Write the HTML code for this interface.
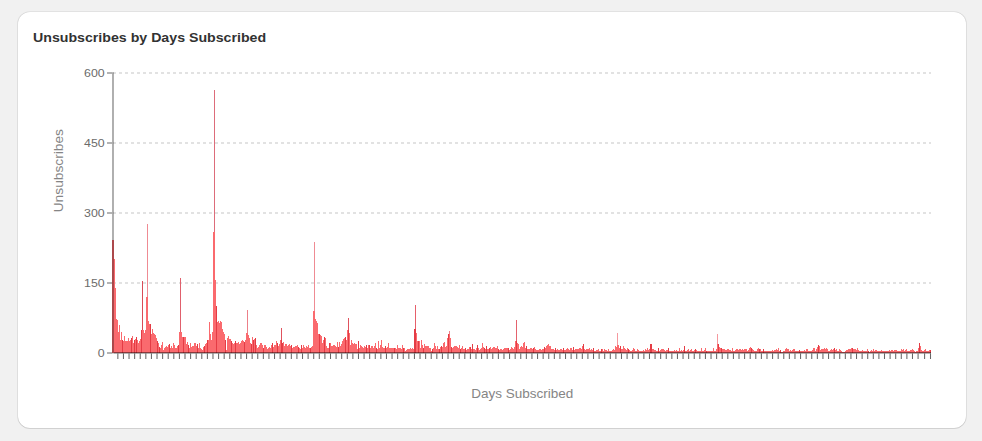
<!DOCTYPE html>
<html><head><meta charset="utf-8"><title>Unsubscribes by Days Subscribed</title>
<style>
html,body{margin:0;padding:0;background:#f1f1f1;width:982px;height:441px;overflow:hidden}
body{font-family:"Liberation Sans",Arial,sans-serif;}
.card{position:absolute;left:18px;top:12px;width:948px;height:416px;background:#fff;border-radius:12px;box-shadow:0 1px 0 0 rgba(0,0,0,.13),1px 0 0 0 rgba(0,0,0,.08),-1px 0 0 0 rgba(0,0,0,.08),0 -1px 0 0 rgba(0,0,0,.06);}
h2{position:absolute;left:33px;top:28.5px;margin:0;font-size:13.6px;line-height:18px;font-weight:700;color:#323232;white-space:nowrap;transform-origin:0 0;transform:scaleX(1.0425)}
svg{position:absolute;left:0;top:0}
svg text{font-family:"Liberation Sans",Arial,sans-serif;}
</style></head><body>
<div class="card"></div>
<h2>Unsubscribes by Days Subscribed</h2>
<svg width="982" height="441" viewBox="0 0 982 441">
<g stroke="#d9d9d9" stroke-width="1.4" stroke-dasharray="3,3" fill="none">
<path d="M113 73H931M113 143H931M113 213H931M113 283H931"/>
</g>
<g shape-rendering="crispEdges">
<path fill="#fa6a6e" d="M113 353.3V240h1V353.3zM114 353.3V259h1V353.3zM115 353.3V288h1V353.3zM116 353.3V319.4h1V353.3zM117 353.3V320h1V353.3zM118 353.3V331.6h1V353.3zM119 353.3V324.9h1V353.3zM120 353.3V340.2h1V353.3zM121 353.3V332.2h1V353.3zM123 353.3V340.8h1V353.3zM124 353.3V335.9h1V353.3zM125 353.3V340.8h1V353.3zM126 353.3V341.2h1V353.3zM127 353.3V341.4h1V353.3zM128 353.3V338.3h1V353.3zM129 353.3V341.4h1V353.3zM130 353.3V339.6h1V353.3zM132 353.3V335.9h1V353.3zM133 353.3V343.2h1V353.3zM135 353.3V339h1V353.3zM137 353.3V340.2h1V353.3zM138 353.3V343.2h1V353.3zM139 353.3V341.1h1V353.3zM140 353.3V339h1V353.3zM142 353.3V329.8h1V353.3zM143 353.3V329.8h1V353.3zM144 353.3V332.8h1V353.3zM145 353.3V330h1V353.3zM146 353.3V297h1V353.3zM147 353.3V297h1V353.3zM148 353.3V321.2h1V353.3zM149 353.3V324.3h1V353.3zM151 353.3V334.1h1V353.3zM152 353.3V328.6h1V353.3zM153 353.3V332.8h1V353.3zM154 353.3V334.1h1V353.3zM155 353.3V334.7h1V353.3zM156 353.3V337.7h1V353.3zM158 353.3V342.6h1V353.3zM160 353.3V348.1h1V353.3zM161 353.3V345.1h1V353.3zM162 353.3V342h1V353.3zM163 353.3V350h1V353.3zM164 353.3V348.1h1V353.3zM165 353.3V346.9h1V353.3zM166 353.3V346.3h1V353.3zM167 353.3V346.9h1V353.3zM168 353.3V345.1h1V353.3zM170 353.3V348.1h1V353.3zM171 353.3V345.7h1V353.3zM172 353.3V347.5h1V353.3zM173 353.3V342.6h1V353.3zM174 353.3V344.5h1V353.3zM175 353.3V347.5h1V353.3zM176 353.3V348.1h1V353.3zM177 353.3V345.7h1V353.3zM179 353.3V331.6h1V353.3zM180 353.3V331.6h1V353.3zM181 353.3V331.6h1V353.3zM182 353.3V336.5h1V353.3zM184 353.3V336.5h1V353.3zM185 353.3V336.5h1V353.3zM186 353.3V343.9h1V353.3zM187 353.3V342h1V353.3zM189 353.3V348.1h1V353.3zM190 353.3V343.2h1V353.3zM191 353.3V346.9h1V353.3zM192 353.3V346.3h1V353.3zM193 353.3V345.7h1V353.3zM194 353.3V342.6h1V353.3zM195 353.3V342.6h1V353.3zM196 353.3V346.3h1V353.3zM198 353.3V348.1h1V353.3zM199 353.3V342.6h1V353.3zM200 353.3V348.1h1V353.3zM201 353.3V348.8h1V353.3zM202 353.3V350h1V353.3zM203 353.3V346.9h1V353.3zM205 353.3V343.9h1V353.3zM206 353.3V343.2h1V353.3zM208 353.3V340.2h1V353.3zM209 353.3V322.4h1V353.3zM210 353.3V334.1h1V353.3zM211 353.3V340.2h1V353.3zM212 353.3V331.6h1V353.3zM213 353.3V232h1V353.3zM214 353.3V232h1V353.3zM215 353.3V280h1V353.3zM217 353.3V322.4h1V353.3zM218 353.3V320.6h1V353.3zM219 353.3V323h1V353.3zM220 353.3V321.2h1V353.3zM221 353.3V322.4h1V353.3zM222 353.3V329.2h1V353.3zM223 353.3V332.2h1V353.3zM224 353.3V334.1h1V353.3zM226 353.3V350h1V353.3zM227 353.3V337.7h1V353.3zM228 353.3V335.9h1V353.3zM229 353.3V339h1V353.3zM230 353.3V339h1V353.3zM232 353.3V343.2h1V353.3zM233 353.3V343.9h1V353.3zM234 353.3V343.2h1V353.3zM236 353.3V343.2h1V353.3zM237 353.3V342.6h1V353.3zM238 353.3V342h1V353.3zM239 353.3V343.9h1V353.3zM240 353.3V342.6h1V353.3zM241 353.3V341.4h1V353.3zM242 353.3V339.9h1V353.3zM243 353.3V341.4h1V353.3zM245 353.3V339.9h1V353.3zM246 353.3V332.8h1V353.3zM247 353.3V332.8h1V353.3zM248 353.3V335.3h1V353.3zM249 353.3V337.7h1V353.3zM250 353.3V342.6h1V353.3zM252 353.3V337.1h1V353.3zM254 353.3V339h1V353.3zM256 353.3V345.1h1V353.3zM257 353.3V347.5h1V353.3zM258 353.3V346.9h1V353.3zM259 353.3V344.5h1V353.3zM260 353.3V343.2h1V353.3zM261 353.3V343.2h1V353.3zM262 353.3V345.1h1V353.3zM264 353.3V344.5h1V353.3zM265 353.3V344.5h1V353.3zM266 353.3V346.9h1V353.3zM267 353.3V349.4h1V353.3zM268 353.3V347.5h1V353.3zM269 353.3V346.9h1V353.3zM270 353.3V347.5h1V353.3zM271 353.3V345.1h1V353.3zM273 353.3V346.9h1V353.3zM274 353.3V344.5h1V353.3zM275 353.3V345.1h1V353.3zM276 353.3V341.4h1V353.3zM278 353.3V346.3h1V353.3zM279 353.3V343.9h1V353.3zM280 353.3V340.2h1V353.3zM283 353.3V342h1V353.3zM284 353.3V346.3h1V353.3zM285 353.3V343.9h1V353.3zM286 353.3V343.9h1V353.3zM287 353.3V345.7h1V353.3zM288 353.3V344.5h1V353.3zM289 353.3V343.9h1V353.3zM290 353.3V346.3h1V353.3zM292 353.3V348.1h1V353.3zM293 353.3V346.9h1V353.3zM294 353.3V346.9h1V353.3zM295 353.3V346.3h1V353.3zM296 353.3V345.7h1V353.3zM297 353.3V344.5h1V353.3zM299 353.3V348.1h1V353.3zM300 353.3V349.4h1V353.3zM302 353.3V347.5h1V353.3zM303 353.3V345.1h1V353.3zM304 353.3V346.9h1V353.3zM305 353.3V347.5h1V353.3zM306 353.3V346.3h1V353.3zM307 353.3V346.9h1V353.3zM308 353.3V345.1h1V353.3zM309 353.3V347.5h1V353.3zM311 353.3V346.9h1V353.3zM312 353.3V345.7h1V353.3zM313 353.3V311.4h1V353.3zM314 353.3V311.4h1V353.3zM315 353.3V319.4h1V353.3zM316 353.3V321.2h1V353.3zM317 353.3V323h1V353.3zM318 353.3V334.1h1V353.3zM320 353.3V334.7h1V353.3zM321 353.3V335.9h1V353.3zM322 353.3V342.6h1V353.3zM323 353.3V340.2h1V353.3zM325 353.3V337.7h1V353.3zM326 353.3V346.3h1V353.3zM327 353.3V348.1h1V353.3zM328 353.3V347.5h1V353.3zM330 353.3V343.2h1V353.3zM331 353.3V346.3h1V353.3zM332 353.3V345.7h1V353.3zM333 353.3V345.1h1V353.3zM334 353.3V345.1h1V353.3zM335 353.3V345.7h1V353.3zM336 353.3V346.9h1V353.3zM337 353.3V342h1V353.3zM339 353.3V342h1V353.3zM340 353.3V346.3h1V353.3zM341 353.3V343.9h1V353.3zM342 353.3V341.4h1V353.3zM343 353.3V339h1V353.3zM344 353.3V337.7h1V353.3zM346 353.3V340.2h1V353.3zM347 353.3V329.8h1V353.3zM349 353.3V332.8h1V353.3zM350 353.3V344.5h1V353.3zM351 353.3V340.2h1V353.3zM352 353.3V343.2h1V353.3zM353 353.3V343.9h1V353.3zM354 353.3V343.2h1V353.3zM355 353.3V343.9h1V353.3zM356 353.3V343.9h1V353.3zM357 353.3V348.8h1V353.3zM359 353.3V348.1h1V353.3zM360 353.3V345.1h1V353.3zM361 353.3V345.7h1V353.3zM362 353.3V346.9h1V353.3zM363 353.3V347.5h1V353.3zM364 353.3V346.3h1V353.3zM365 353.3V346.9h1V353.3zM367 353.3V347.5h1V353.3zM368 353.3V344.5h1V353.3zM370 353.3V348.1h1V353.3zM371 353.3V345.7h1V353.3zM372 353.3V345.7h1V353.3zM373 353.3V348.1h1V353.3zM374 353.3V346.3h1V353.3zM375 353.3V343.2h1V353.3zM377 353.3V348.8h1V353.3zM378 353.3V341.4h1V353.3zM379 353.3V348.1h1V353.3zM380 353.3V345.1h1V353.3zM381 353.3V340.2h1V353.3zM382 353.3V346.9h1V353.3zM383 353.3V347.5h1V353.3zM384 353.3V348.1h1V353.3zM386 353.3V348.1h1V353.3zM387 353.3V346.9h1V353.3zM388 353.3V343.2h1V353.3zM389 353.3V347.5h1V353.3zM390 353.3V347.5h1V353.3zM391 353.3V348.1h1V353.3zM392 353.3V348.1h1V353.3zM393 353.3V348.1h1V353.3zM395 353.3V347.5h1V353.3zM396 353.3V348.8h1V353.3zM397 353.3V345.1h1V353.3zM398 353.3V348.1h1V353.3zM399 353.3V348.1h1V353.3zM400 353.3V348.1h1V353.3zM401 353.3V348.8h1V353.3zM402 353.3V345.1h1V353.3zM404 353.3V347.5h1V353.3zM405 353.3V350.6h1V353.3zM406 353.3V350h1V353.3zM407 353.3V348.8h1V353.3zM408 353.3V348.8h1V353.3zM409 353.3V348.8h1V353.3zM410 353.3V348.1h1V353.3zM411 353.3V348.8h1V353.3zM412 353.3V347.5h1V353.3zM413 353.3V349.4h1V353.3zM416 353.3V333.4h1V353.3zM417 353.3V341.4h1V353.3zM419 353.3V340.8h1V353.3zM420 353.3V347.5h1V353.3zM421 353.3V339.6h1V353.3zM422 353.3V344.5h1V353.3zM424 353.3V343.9h1V353.3zM425 353.3V345.7h1V353.3zM426 353.3V345.7h1V353.3zM427 353.3V345.7h1V353.3zM428 353.3V345.7h1V353.3zM429 353.3V347.5h1V353.3zM430 353.3V348.1h1V353.3zM431 353.3V350.6h1V353.3zM433 353.3V348.1h1V353.3zM434 353.3V342.6h1V353.3zM435 353.3V345.7h1V353.3zM436 353.3V348.8h1V353.3zM437 353.3V345.7h1V353.3zM438 353.3V349.4h1V353.3zM440 353.3V346.9h1V353.3zM442 353.3V346.9h1V353.3zM443 353.3V343.2h1V353.3zM444 353.3V342h1V353.3zM445 353.3V346.9h1V353.3zM446 353.3V346h1V353.3zM447 353.3V337.7h1V353.3zM449 353.3V334.4h1V353.3zM450 353.3V337.7h1V353.3zM452 353.3V348.1h1V353.3zM453 353.3V346.9h1V353.3zM454 353.3V345.7h1V353.3zM455 353.3V346.3h1V353.3zM456 353.3V345.7h1V353.3zM457 353.3V346.9h1V353.3zM458 353.3V347.5h1V353.3zM459 353.3V344.5h1V353.3zM461 353.3V348.1h1V353.3zM462 353.3V345.7h1V353.3zM463 353.3V348.8h1V353.3zM464 353.3V349.4h1V353.3zM466 353.3V350h1V353.3zM467 353.3V349.4h1V353.3zM468 353.3V348.8h1V353.3zM469 353.3V346.9h1V353.3zM471 353.3V349.4h1V353.3zM473 353.3V348.8h1V353.3zM474 353.3V349.4h1V353.3zM475 353.3V350h1V353.3zM476 353.3V347.5h1V353.3zM478 353.3V347.5h1V353.3zM479 353.3V350h1V353.3zM480 353.3V349.4h1V353.3zM481 353.3V348.1h1V353.3zM482 353.3V343.2h1V353.3zM483 353.3V346.9h1V353.3zM485 353.3V349.4h1V353.3zM487 353.3V348.8h1V353.3zM488 353.3V349.4h1V353.3zM490 353.3V346.9h1V353.3zM491 353.3V349.4h1V353.3zM492 353.3V348.1h1V353.3zM493 353.3V346.9h1V353.3zM494 353.3V347.2h1V353.3zM495 353.3V347.5h1V353.3zM496 353.3V348.1h1V353.3zM497 353.3V346.3h1V353.3zM499 353.3V350h1V353.3zM500 353.3V349.4h1V353.3zM501 353.3V348.8h1V353.3zM502 353.3V350h1V353.3zM503 353.3V348.8h1V353.3zM504 353.3V348.1h1V353.3zM505 353.3V348.1h1V353.3zM506 353.3V348.1h1V353.3zM507 353.3V348.1h1V353.3zM509 353.3V350h1V353.3zM510 353.3V349.4h1V353.3zM511 353.3V346.9h1V353.3zM512 353.3V347.5h1V353.3zM513 353.3V349.4h1V353.3zM514 353.3V346.9h1V353.3zM515 353.3V341.4h1V353.3zM517 353.3V342.6h1V353.3zM518 353.3V343.9h1V353.3zM519 353.3V349.4h1V353.3zM520 353.3V346.9h1V353.3zM521 353.3V345.7h1V353.3zM522 353.3V346.9h1V353.3zM523 353.3V342.6h1V353.3zM524 353.3V342h1V353.3zM525 353.3V347.5h1V353.3zM527 353.3V349.4h1V353.3zM528 353.3V348.8h1V353.3zM529 353.3V349.4h1V353.3zM530 353.3V347.8h1V353.3zM531 353.3V347.5h1V353.3zM532 353.3V349.4h1V353.3zM534 353.3V346.9h1V353.3zM535 353.3V349.4h1V353.3zM536 353.3V350h1V353.3zM537 353.3V350h1V353.3zM538 353.3V350h1V353.3zM539 353.3V348.8h1V353.3zM540 353.3V349.4h1V353.3zM541 353.3V350h1V353.3zM542 353.3V349.4h1V353.3zM543 353.3V348.8h1V353.3zM545 353.3V347.5h1V353.3zM546 353.3V345.7h1V353.3zM547 353.3V345.1h1V353.3zM548 353.3V343.9h1V353.3zM549 353.3V345.7h1V353.3zM550 353.3V346.3h1V353.3zM551 353.3V348.8h1V353.3zM552 353.3V349.4h1V353.3zM553 353.3V349.4h1V353.3zM554 353.3V350h1V353.3zM556 353.3V350h1V353.3zM557 353.3V349.4h1V353.3zM558 353.3V350h1V353.3zM559 353.3V350h1V353.3zM560 353.3V349.4h1V353.3zM561 353.3V348.8h1V353.3zM562 353.3V350h1V353.3zM564 353.3V350h1V353.3zM565 353.3V350h1V353.3zM566 353.3V348.8h1V353.3zM567 353.3V347.5h1V353.3zM568 353.3V349.4h1V353.3zM569 353.3V350h1V353.3zM570 353.3V348.1h1V353.3zM571 353.3V347.5h1V353.3zM572 353.3V350h1V353.3zM574 353.3V350h1V353.3zM575 353.3V349.4h1V353.3zM576 353.3V349.4h1V353.3zM577 353.3V349.4h1V353.3zM578 353.3V349.1h1V353.3zM579 353.3V348.1h1V353.3zM580 353.3V347.5h1V353.3zM581 353.3V349.4h1V353.3zM582 353.3V346.3h1V353.3zM584 353.3V349.4h1V353.3zM585 353.3V350h1V353.3zM586 353.3V349.4h1V353.3zM587 353.3V348.8h1V353.3zM588 353.3V349.4h1V353.3zM589 353.3V348.1h1V353.3zM590 353.3V350h1V353.3zM591 353.3V349.4h1V353.3zM592 353.3V350h1V353.3zM594 353.3V350.6h1V353.3zM595 353.3V350.6h1V353.3zM596 353.3V350h1V353.3zM597 353.3V350h1V353.3zM598 353.3V349.4h1V353.3zM599 353.3V351.2h1V353.3zM600 353.3V350.6h1V353.3zM602 353.3V349.4h1V353.3zM603 353.3V351.2h1V353.3zM604 353.3V349.4h1V353.3zM605 353.3V350h1V353.3zM606 353.3V350h1V353.3zM607 353.3V350.6h1V353.3zM608 353.3V349.4h1V353.3zM609 353.3V351.2h1V353.3zM610 353.3V351.2h1V353.3zM611 353.3V350.6h1V353.3zM612 353.3V350h1V353.3zM613 353.3V349.4h1V353.3zM614 353.3V350.3h1V353.3zM615 353.3V346.3h1V353.3zM616 353.3V346.5h1V353.3zM617 353.3V344.5h1V353.3zM618 353.3V344.5h1V353.3zM619 353.3V348.1h1V353.3zM621 353.3V349.4h1V353.3zM622 353.3V348.8h1V353.3zM623 353.3V346.3h1V353.3zM624 353.3V348.1h1V353.3zM625 353.3V348.8h1V353.3zM626 353.3V350h1V353.3zM627 353.3V348.1h1V353.3zM629 353.3V350h1V353.3zM630 353.3V350.6h1V353.3zM631 353.3V350.6h1V353.3zM632 353.3V350h1V353.3zM633 353.3V348.1h1V353.3zM634 353.3V348.8h1V353.3zM635 353.3V350.6h1V353.3zM636 353.3V350.6h1V353.3zM637 353.3V349.4h1V353.3zM638 353.3V350h1V353.3zM639 353.3V351.2h1V353.3zM640 353.3V351.2h1V353.3zM641 353.3V350.6h1V353.3zM642 353.3V350.6h1V353.3zM643 353.3V350h1V353.3zM644 353.3V350.6h1V353.3zM645 353.3V349.4h1V353.3zM646 353.3V350h1V353.3zM647 353.3V348.1h1V353.3zM648 353.3V350h1V353.3zM649 353.3V349.4h1V353.3zM652 353.3V349.4h1V353.3zM653 353.3V348.8h1V353.3zM654 353.3V350h1V353.3zM655 353.3V350h1V353.3zM656 353.3V350.6h1V353.3zM657 353.3V350.6h1V353.3zM659 353.3V350.6h1V353.3zM660 353.3V350h1V353.3zM661 353.3V348.8h1V353.3zM662 353.3V349.4h1V353.3zM663 353.3V348.8h1V353.3zM664 353.3V350h1V353.3zM665 353.3V350.6h1V353.3zM666 353.3V350h1V353.3zM667 353.3V350h1V353.3zM669 353.3V351.2h1V353.3zM670 353.3V351.2h1V353.3zM671 353.3V351.4h1V353.3zM672 353.3V351.4h1V353.3zM673 353.3V351.2h1V353.3zM674 353.3V350h1V353.3zM675 353.3V350.6h1V353.3zM676 353.3V350h1V353.3zM677 353.3V350.6h1V353.3zM678 353.3V350.6h1V353.3zM679 353.3V348.1h1V353.3zM680 353.3V350.6h1V353.3zM681 353.3V350h1V353.3zM682 353.3V350.6h1V353.3zM683 353.3V350h1V353.3zM685 353.3V350.6h1V353.3zM686 353.3V350.6h1V353.3zM687 353.3V350h1V353.3zM688 353.3V349.4h1V353.3zM689 353.3V350.6h1V353.3zM690 353.3V350h1V353.3zM691 353.3V349.4h1V353.3zM692 353.3V350.6h1V353.3zM693 353.3V350.6h1V353.3zM694 353.3V350h1V353.3zM696 353.3V350h1V353.3zM697 353.3V350.6h1V353.3zM698 353.3V350.6h1V353.3zM699 353.3V350.6h1V353.3zM700 353.3V350.6h1V353.3zM701 353.3V347.5h1V353.3zM702 353.3V350.6h1V353.3zM703 353.3V351.2h1V353.3zM704 353.3V350h1V353.3zM705 353.3V348.1h1V353.3zM707 353.3V351.2h1V353.3zM708 353.3V350.6h1V353.3zM709 353.3V350.6h1V353.3zM710 353.3V351.2h1V353.3zM711 353.3V351.4h1V353.3zM712 353.3V351.2h1V353.3zM713 353.3V348.1h1V353.3zM714 353.3V351.4h1V353.3zM715 353.3V350.6h1V353.3zM716 353.3V348.8h1V353.3zM717 353.3V343.9h1V353.3zM719 353.3V346.9h1V353.3zM720 353.3V348.1h1V353.3zM722 353.3V348.8h1V353.3zM723 353.3V348.8h1V353.3zM724 353.3V349.4h1V353.3zM725 353.3V350h1V353.3zM726 353.3V350h1V353.3zM727 353.3V349.4h1V353.3zM728 353.3V349.4h1V353.3zM729 353.3V350h1V353.3zM730 353.3V350h1V353.3zM731 353.3V350.6h1V353.3zM732 353.3V348.1h1V353.3zM733 353.3V351.2h1V353.3zM734 353.3V350.6h1V353.3zM735 353.3V350h1V353.3zM736 353.3V349.4h1V353.3zM737 353.3V348.8h1V353.3zM738 353.3V350h1V353.3zM739 353.3V349.4h1V353.3zM740 353.3V349.4h1V353.3zM741 353.3V350h1V353.3zM742 353.3V349.4h1V353.3zM743 353.3V350h1V353.3zM744 353.3V349.4h1V353.3zM745 353.3V348.8h1V353.3zM746 353.3V349.1h1V353.3zM747 353.3V350.6h1V353.3zM748 353.3V350h1V353.3zM749 353.3V347.5h1V353.3zM750 353.3V346.9h1V353.3zM752 353.3V348.8h1V353.3zM753 353.3V350h1V353.3zM754 353.3V350.6h1V353.3zM755 353.3V351.2h1V353.3zM756 353.3V350.6h1V353.3zM757 353.3V349.4h1V353.3zM758 353.3V348.1h1V353.3zM760 353.3V349.4h1V353.3zM761 353.3V351.2h1V353.3zM762 353.3V350.6h1V353.3zM764 353.3V351.2h1V353.3zM765 353.3V351.2h1V353.3zM766 353.3V351h1V353.3zM767 353.3V351.2h1V353.3zM768 353.3V351.4h1V353.3zM769 353.3V351h1V353.3zM770 353.3V350.6h1V353.3zM771 353.3V351h1V353.3zM772 353.3V350h1V353.3zM773 353.3V351h1V353.3zM774 353.3V350h1V353.3zM775 353.3V350h1V353.3zM776 353.3V349.4h1V353.3zM777 353.3V350h1V353.3zM778 353.3V348.1h1V353.3zM779 353.3V351.2h1V353.3zM781 353.3V351.7h1V353.3zM782 353.3V351.7h1V353.3zM783 353.3V351.4h1V353.3zM784 353.3V350.6h1V353.3zM785 353.3V348.8h1V353.3zM786 353.3V347.5h1V353.3zM787 353.3V348.8h1V353.3zM788 353.3V349.4h1V353.3zM789 353.3V350.6h1V353.3zM790 353.3V350h1V353.3zM791 353.3V350.6h1V353.3zM792 353.3V350h1V353.3zM793 353.3V349.4h1V353.3zM794 353.3V349.1h1V353.3zM795 353.3V351.2h1V353.3zM796 353.3V351.4h1V353.3zM797 353.3V351.2h1V353.3zM798 353.3V350.6h1V353.3zM800 353.3V351.2h1V353.3zM801 353.3V350.6h1V353.3zM802 353.3V351.2h1V353.3zM803 353.3V350.6h1V353.3zM804 353.3V350h1V353.3zM805 353.3V350.6h1V353.3zM806 353.3V349.4h1V353.3zM807 353.3V348.8h1V353.3zM808 353.3V350.6h1V353.3zM809 353.3V351.2h1V353.3zM810 353.3V351.2h1V353.3zM811 353.3V350.6h1V353.3zM812 353.3V350h1V353.3zM813 353.3V348.1h1V353.3zM814 353.3V347.5h1V353.3zM815 353.3V350.6h1V353.3zM816 353.3V349.4h1V353.3zM817 353.3V346.9h1V353.3zM819 353.3V345.7h1V353.3zM820 353.3V350h1V353.3zM821 353.3V349.4h1V353.3zM822 353.3V348.8h1V353.3zM823 353.3V349.4h1V353.3zM824 353.3V348.1h1V353.3zM825 353.3V348.8h1V353.3zM826 353.3V348.1h1V353.3zM827 353.3V349.4h1V353.3zM828 353.3V350.6h1V353.3zM829 353.3V351.2h1V353.3zM830 353.3V350h1V353.3zM831 353.3V349.4h1V353.3zM832 353.3V350h1V353.3zM833 353.3V348.8h1V353.3zM835 353.3V350h1V353.3zM836 353.3V348.8h1V353.3zM837 353.3V350.6h1V353.3zM838 353.3V350.6h1V353.3zM839 353.3V349.4h1V353.3zM840 353.3V350h1V353.3zM841 353.3V351.4h1V353.3zM842 353.3V351.8h1V353.3zM843 353.3V351.8h1V353.3zM844 353.3V351.8h1V353.3zM845 353.3V350.6h1V353.3zM846 353.3V350h1V353.3zM847 353.3V350h1V353.3zM848 353.3V349.4h1V353.3zM849 353.3V349.4h1V353.3zM850 353.3V348.8h1V353.3zM851 353.3V348.1h1V353.3zM853 353.3V348.8h1V353.3zM854 353.3V349.1h1V353.3zM855 353.3V349.4h1V353.3zM856 353.3V350h1V353.3zM857 353.3V348.1h1V353.3zM858 353.3V350h1V353.3zM859 353.3V350.6h1V353.3zM860 353.3V350.6h1V353.3zM861 353.3V351.2h1V353.3zM862 353.3V350h1V353.3zM863 353.3V351.4h1V353.3zM864 353.3V350.6h1V353.3zM865 353.3V351.4h1V353.3zM866 353.3V351.2h1V353.3zM867 353.3V349.4h1V353.3zM869 353.3V351.8h1V353.3zM870 353.3V351.2h1V353.3zM871 353.3V350h1V353.3zM872 353.3V350.6h1V353.3zM873 353.3V349.4h1V353.3zM874 353.3V350.6h1V353.3zM875 353.3V350h1V353.3zM876 353.3V350h1V353.3zM877 353.3V350.6h1V353.3zM878 353.3V351.2h1V353.3zM879 353.3V350.6h1V353.3zM880 353.3V350.6h1V353.3zM881 353.3V350h1V353.3zM882 353.3V350.6h1V353.3zM883 353.3V351.2h1V353.3zM884 353.3V350.6h1V353.3zM885 353.3V350.6h1V353.3zM886 353.3V351h1V353.3zM887 353.3V350.6h1V353.3zM888 353.3V351.2h1V353.3zM889 353.3V350h1V353.3zM890 353.3V350.6h1V353.3zM891 353.3V350h1V353.3zM892 353.3V350h1V353.3zM893 353.3V350.6h1V353.3zM894 353.3V350h1V353.3zM895 353.3V350h1V353.3zM896 353.3V350h1V353.3zM897 353.3V351h1V353.3zM898 353.3V351.4h1V353.3zM899 353.3V351.2h1V353.3zM900 353.3V350.6h1V353.3zM901 353.3V348.8h1V353.3zM902 353.3V350h1V353.3zM903 353.3V348.8h1V353.3zM904 353.3V351.2h1V353.3zM905 353.3V350h1V353.3zM906 353.3V349.4h1V353.3zM907 353.3V350.6h1V353.3zM908 353.3V351.4h1V353.3zM909 353.3V350.6h1V353.3zM910 353.3V350h1V353.3zM911 353.3V350h1V353.3zM912 353.3V349.4h1V353.3zM913 353.3V350h1V353.3zM914 353.3V351.2h1V353.3zM915 353.3V351.8h1V353.3zM916 353.3V351.4h1V353.3zM917 353.3V350.6h1V353.3zM918 353.3V347.5h1V353.3zM920 353.3V346.3h1V353.3zM921 353.3V350h1V353.3zM922 353.3V350.6h1V353.3zM923 353.3V350.6h1V353.3zM924 353.3V350h1V353.3zM925 353.3V349.4h1V353.3zM926 353.3V350.6h1V353.3zM927 353.3V351.2h1V353.3zM928 353.3V350.6h1V353.3zM929 353.3V350h1V353.3zM112.4 353.3V240h.6V353.3z"/>
<path fill="#d94c57" d="M142 329.8V281h1V329.8z"/><path fill="#ef8b93" d="M147 297V224h1V297z"/><path fill="#e0606c" d="M180 331.6V278h1V331.6z"/><path fill="#dd6c7a" d="M214 232V90h1V232z"/><path fill="#ec7f88" d="M247 332.8V310.2h1V332.8z"/><path fill="#e0525d" d="M281 340.2V327.9h1V340.2z"/><path fill="#ef8b93" d="M314 311.4V242h1V311.4z"/><path fill="#e0525d" d="M348 329.8V318.1h1V329.8z"/><path fill="#e65f6a" d="M415 329.2V304.7h1V329.2z"/><path fill="#ee7f88" d="M449 334.4V331h1V334.4z"/><path fill="#e4626d" d="M516 341.4V320h1V341.4z"/><path fill="#f5989e" d="M617 344.5V333.4h1V344.5z"/><path fill="#f5989e" d="M717 343.9V334.1h1V343.9z"/>
<path fill="#e43c45" d="M122 353.3V340.2h1V353.3zM131 353.3V337.7h1V353.3zM134 353.3V340.2h1V353.3zM136 353.3V336.5h1V353.3zM141 353.3V329.8h1V353.3zM150 353.3V324.3h1V353.3zM157 353.3V340.8h1V353.3zM159 353.3V346.9h1V353.3zM169 353.3V343.9h1V353.3zM178 353.3V345.1h1V353.3zM183 353.3V336.5h1V353.3zM188 353.3V345.1h1V353.3zM197 353.3V343.9h1V353.3zM204 353.3V345.7h1V353.3zM207 353.3V339.6h1V353.3zM216 353.3V305.9h1V353.3zM225 353.3V339.6h1V353.3zM231 353.3V340.8h1V353.3zM235 353.3V340.8h1V353.3zM244 353.3V342h1V353.3zM251 353.3V343.9h1V353.3zM253 353.3V340.2h1V353.3zM255 353.3V337.5h1V353.3zM263 353.3V348.1h1V353.3zM272 353.3V343.2h1V353.3zM277 353.3V342.6h1V353.3zM281 353.3V340.2h1V353.3zM282 353.3V343.2h1V353.3zM291 353.3V345.1h1V353.3zM298 353.3V346.9h1V353.3zM301 353.3V344.5h1V353.3zM310 353.3V348.1h1V353.3zM319 353.3V334.3h1V353.3zM324 353.3V337.1h1V353.3zM329 353.3V343.2h1V353.3zM338 353.3V346.9h1V353.3zM345 353.3V336.5h1V353.3zM348 353.3V329.8h1V353.3zM358 353.3V340.8h1V353.3zM366 353.3V345.1h1V353.3zM369 353.3V344.5h1V353.3zM376 353.3V348.1h1V353.3zM385 353.3V346.3h1V353.3zM394 353.3V347.5h1V353.3zM403 353.3V348.1h1V353.3zM414 353.3V329.2h1V353.3zM415 353.3V329.2h1V353.3zM418 353.3V340.8h1V353.3zM423 353.3V347.5h1V353.3zM432 353.3V348.8h1V353.3zM439 353.3V349.4h1V353.3zM441 353.3V346.3h1V353.3zM448 353.3V334.4h1V353.3zM451 353.3V346.9h1V353.3zM460 353.3V348.8h1V353.3zM465 353.3V347.5h1V353.3zM470 353.3V346.9h1V353.3zM472 353.3V343.9h1V353.3zM477 353.3V344.5h1V353.3zM484 353.3V348.1h1V353.3zM486 353.3V346.3h1V353.3zM489 353.3V347.5h1V353.3zM498 353.3V349.4h1V353.3zM508 353.3V348.1h1V353.3zM516 353.3V341.4h1V353.3zM526 353.3V345.7h1V353.3zM533 353.3V348.1h1V353.3zM544 353.3V346.9h1V353.3zM555 353.3V347.5h1V353.3zM563 353.3V347.5h1V353.3zM573 353.3V346.9h1V353.3zM583 353.3V343.9h1V353.3zM593 353.3V347.5h1V353.3zM601 353.3V348.8h1V353.3zM620 353.3V345.7h1V353.3zM628 353.3V348.8h1V353.3zM650 353.3V343.9h1V353.3zM651 353.3V343.9h1V353.3zM658 353.3V348.1h1V353.3zM668 353.3V348.1h1V353.3zM684 353.3V346.3h1V353.3zM695 353.3V348.8h1V353.3zM706 353.3V350.6h1V353.3zM718 353.3V343.9h1V353.3zM721 353.3V347.5h1V353.3zM751 353.3V348.1h1V353.3zM759 353.3V348.8h1V353.3zM763 353.3V349.4h1V353.3zM780 353.3V350h1V353.3zM799 353.3V350h1V353.3zM818 353.3V345.1h1V353.3zM834 353.3V347.5h1V353.3zM852 353.3V348.1h1V353.3zM868 353.3V351.4h1V353.3zM919 353.3V342.6h1V353.3zM930 353.3V350h1V353.3z"/>
</g>
<g stroke="#000" stroke-opacity=".4" fill="none">
<path d="M113 72.3V353.6" stroke-width="1.8" stroke-opacity=".35"/>
<path d="M107 73h5.1M107 143h5.1M107 213h5.1M107 283h5.1M107 352.9h5.1" stroke-width="1.5"/>
<path d="M113.9 352.75H931" stroke-width="1.25" stroke-opacity=".6"/>
<path d="M117.85 353.4v5.7M123.45 353.4v5.7M129.04 353.4v5.7M134.64 353.4v5.7M140.23 353.4v5.7M145.83 353.4v5.7M151.43 353.4v5.7M157.02 353.4v5.7M162.62 353.4v5.7M168.21 353.4v5.7M173.81 353.4v5.7M179.41 353.4v5.7M185.0 353.4v5.7M190.6 353.4v5.7M196.19 353.4v5.7M201.79 353.4v5.7M207.39 353.4v5.7M212.98 353.4v5.7M218.58 353.4v5.7M224.17 353.4v5.7M229.77 353.4v5.7M235.37 353.4v5.7M240.96 353.4v5.7M246.56 353.4v5.7M252.15 353.4v5.7M257.75 353.4v5.7M263.35 353.4v5.7M268.94 353.4v5.7M274.54 353.4v5.7M280.13 353.4v5.7M285.73 353.4v5.7M291.33 353.4v5.7M296.92 353.4v5.7M302.52 353.4v5.7M308.11 353.4v5.7M313.71 353.4v5.7M319.31 353.4v5.7M324.9 353.4v5.7M330.5 353.4v5.7M336.09 353.4v5.7M341.69 353.4v5.7M347.29 353.4v5.7M352.88 353.4v5.7M358.48 353.4v5.7M364.07 353.4v5.7M369.67 353.4v5.7M375.27 353.4v5.7M380.86 353.4v5.7M386.46 353.4v5.7M392.05 353.4v5.7M397.65 353.4v5.7M403.25 353.4v5.7M408.84 353.4v5.7M414.44 353.4v5.7M420.03 353.4v5.7M425.63 353.4v5.7M431.23 353.4v5.7M436.82 353.4v5.7M442.42 353.4v5.7M448.01 353.4v5.7M453.61 353.4v5.7M459.21 353.4v5.7M464.8 353.4v5.7M470.4 353.4v5.7M475.99 353.4v5.7M481.59 353.4v5.7M487.19 353.4v5.7M492.78 353.4v5.7M498.38 353.4v5.7M503.97 353.4v5.7M509.57 353.4v5.7M515.17 353.4v5.7M520.76 353.4v5.7M526.36 353.4v5.7M531.95 353.4v5.7M537.55 353.4v5.7M543.15 353.4v5.7M548.74 353.4v5.7M554.34 353.4v5.7M559.93 353.4v5.7M565.53 353.4v5.7M571.13 353.4v5.7M576.72 353.4v5.7M582.32 353.4v5.7M587.91 353.4v5.7M593.51 353.4v5.7M599.11 353.4v5.7M604.7 353.4v5.7M610.3 353.4v5.7M615.89 353.4v5.7M621.49 353.4v5.7M627.09 353.4v5.7M632.68 353.4v5.7M638.28 353.4v5.7M643.87 353.4v5.7M649.47 353.4v5.7M655.07 353.4v5.7M660.66 353.4v5.7M666.26 353.4v5.7M671.85 353.4v5.7M677.45 353.4v5.7M683.05 353.4v5.7M688.64 353.4v5.7M694.24 353.4v5.7M699.83 353.4v5.7M705.43 353.4v5.7M711.03 353.4v5.7M716.62 353.4v5.7M722.22 353.4v5.7M727.81 353.4v5.7M733.41 353.4v5.7M739.01 353.4v5.7M744.6 353.4v5.7M750.2 353.4v5.7M755.79 353.4v5.7M761.39 353.4v5.7M766.99 353.4v5.7M772.58 353.4v5.7M778.18 353.4v5.7M783.77 353.4v5.7M789.37 353.4v5.7M794.97 353.4v5.7M800.56 353.4v5.7M806.16 353.4v5.7M811.75 353.4v5.7M817.35 353.4v5.7M822.95 353.4v5.7M828.54 353.4v5.7M834.14 353.4v5.7M839.73 353.4v5.7M845.33 353.4v5.7M850.93 353.4v5.7M856.52 353.4v5.7M862.12 353.4v5.7M867.71 353.4v5.7M873.31 353.4v5.7M878.91 353.4v5.7M884.5 353.4v5.7M890.1 353.4v5.7M895.69 353.4v5.7M901.29 353.4v5.7M906.89 353.4v5.7M912.48 353.4v5.7M918.08 353.4v5.7M924.6 353.4v5.7M930.5 353.4v5.7" stroke-width="1.05" stroke-opacity=".6"/>
</g>
<g fill="#6b6b6b" font-size="11.3" text-anchor="end">
<text x="104.7" y="77" textLength="20.6" lengthAdjust="spacingAndGlyphs">600</text>
<text x="104.7" y="147" textLength="20.6" lengthAdjust="spacingAndGlyphs">450</text>
<text x="104.7" y="217" textLength="20.6" lengthAdjust="spacingAndGlyphs">300</text>
<text x="104.7" y="287" textLength="20.6" lengthAdjust="spacingAndGlyphs">150</text>
<text x="104.7" y="357" textLength="6.9" lengthAdjust="spacingAndGlyphs">0</text>
</g>
<text x="522.2" y="398" text-anchor="middle" font-size="12.8" fill="#858585" textLength="102" lengthAdjust="spacingAndGlyphs">Days Subscribed</text>
<text transform="translate(62.9 170.7) rotate(-90)" text-anchor="middle" font-size="12.9" fill="#858585" textLength="83.2" lengthAdjust="spacingAndGlyphs">Unsubscribes</text>
</svg>
</body></html>
